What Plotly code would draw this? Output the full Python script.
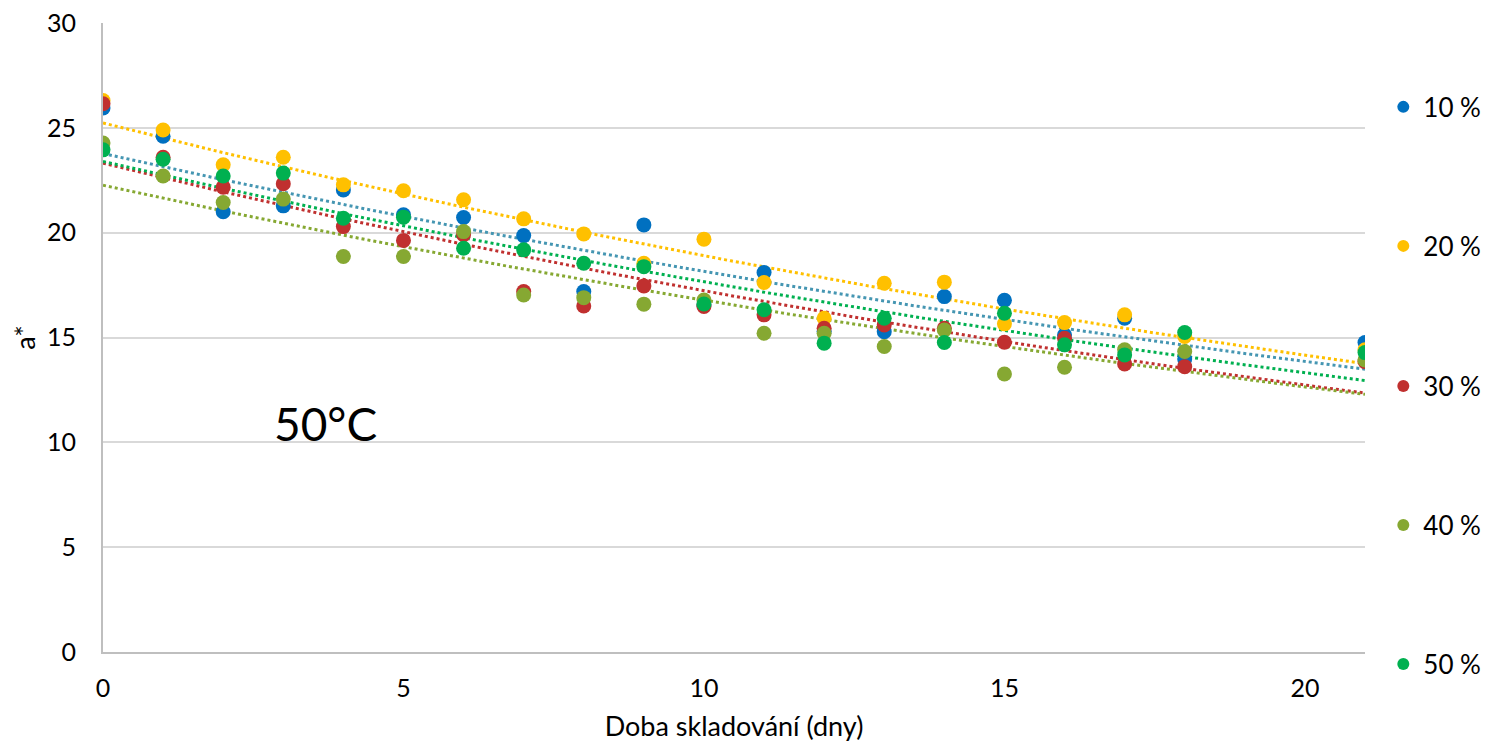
import numpy as np
import plotly.graph_objects as go

days = [0, 1, 2, 3, 4, 5, 6, 7, 8, 9, 10, 11, 12, 13, 14, 15, 16, 17, 18, 21]

s10 = [25.95, 24.6, 21.0, 21.28, 22.04, 20.85, 20.72, 19.86, 17.19, 20.37, 16.55, 18.1, 15.3, 15.28, 16.95, 16.78, 15.12, 15.92, 13.97, 14.76]
s20 = [26.3, 24.9, 23.24, 23.6, 22.28, 22.0, 21.57, 20.66, 19.94, 18.54, 19.69, 17.62, 15.92, 17.59, 17.64, 15.65, 15.71, 16.08, 15.05, 14.41]
s30 = [26.15, 23.6, 22.17, 22.33, 20.29, 19.63, 19.9, 17.19, 16.5, 17.46, 16.48, 16.08, 15.44, 15.6, 15.44, 14.77, 14.96, 13.74, 13.61, 13.85]
s40 = [24.28, 22.7, 21.44, 21.6, 18.86, 18.86, 20.05, 17.03, 16.9, 16.59, 16.79, 15.2, 15.2, 14.57, 15.36, 13.26, 13.58, 14.41, 14.33, 13.93]
s50 = [23.95, 23.5, 22.7, 22.84, 20.69, 20.74, 19.26, 19.18, 18.54, 18.38, 16.6, 16.32, 14.73, 15.92, 14.76, 16.16, 14.65, 14.17, 15.24, 14.28]

names = ["10 %", "20 %", "30 %", "40 %", "50 %"]
series = [s10, s20, s30, s40, s50]
colors = ["#0070C0", "#FFC000", "#C0302F", "#86A832", "#00B050"]
trend_colors = ["#4596B2", "#FFC000", "#C0302F", "#86A832", "#00B050"]
legend_y = [0.8665, 0.6455, 0.4229, 0.2019, -0.0191]

FONT = "Lato, 'Open Sans', sans-serif"

fig = go.Figure()

x_arr = np.array(days, dtype=float)
xfit = np.linspace(0.0, 21.0, 200)

# exponential trendlines (Excel-style: fit on ln(y))
for i, s in enumerate(series):
    b, ln_a = np.polyfit(x_arr, np.log(np.array(s)), 1)
    fig.add_trace(go.Scatter(
        x=xfit, y=np.exp(ln_a) * np.exp(b * xfit), mode="lines",
        line=dict(color=trend_colors[i], width=3, dash="dot"),
        showlegend=False, hoverinfo="skip"))

legend_keys = ["legend", "legend2", "legend3", "legend4", "legend5"]
for i, s in enumerate(series):
    fig.add_trace(go.Scatter(
        x=days, y=s, mode="markers", name=names[i],
        marker=dict(color=colors[i], size=15, line=dict(width=0)),
        legend=legend_keys[i]))

layout_legends = {}
for i, key in enumerate(legend_keys):
    layout_legends[key] = dict(
        x=1.0145, xanchor="left", y=legend_y[i], yanchor="middle",
        font=dict(family=FONT, size=26, color="#000000"),
        bgcolor="rgba(0,0,0,0)", itemwidth=30, itemsizing="constant",
        tracegroupgap=0)

fig.update_layout(
    width=1482, height=740,
    margin=dict(l=95, r=125, t=15, b=96, autoexpand=False),
    paper_bgcolor="white", plot_bgcolor="white",
    font=dict(family=FONT, size=25, color="#000000"),
    showlegend=True,
    **layout_legends,
    xaxis=dict(
        range=[0, 21], tickvals=[0, 5, 10, 15, 20],
        showgrid=False, zeroline=False,
        showline=True, linecolor="#BFBFBF", linewidth=2,
        ticks="", ticklabelstandoff=13, ticklabeloverflow="allow",
        tickfont=dict(family=FONT, size=25, color="#000000"),
        title=dict(text="Doba skladování (dny)", standoff=16,
                   font=dict(family=FONT, size=27, color="#000000")),
    ),
    yaxis=dict(
        range=[0, 30], tickvals=[0, 5, 10, 15, 20, 25, 30],
        showgrid=False, zeroline=False,
        showline=True, linecolor="#BFBFBF", linewidth=2,
        ticks="", ticklabelstandoff=20, ticklabeloverflow="allow",
        minor=dict(tickvals=[5, 10, 15, 20, 25], showgrid=True,
                   gridcolor="#D9D9D9", gridwidth=2, ticks=""),
        tickfont=dict(family=FONT, size=25, color="#000000"),
        title=dict(text="a*", standoff=8,
                   font=dict(family=FONT, size=27, color="#000000")),
    ),
    annotations=[dict(
        x=3.71, y=10.9, xref="x", yref="y", text="50°C", showarrow=False,
        font=dict(family=FONT, size=46, color="#000000"))],
)

fig.write_html("out.html")
